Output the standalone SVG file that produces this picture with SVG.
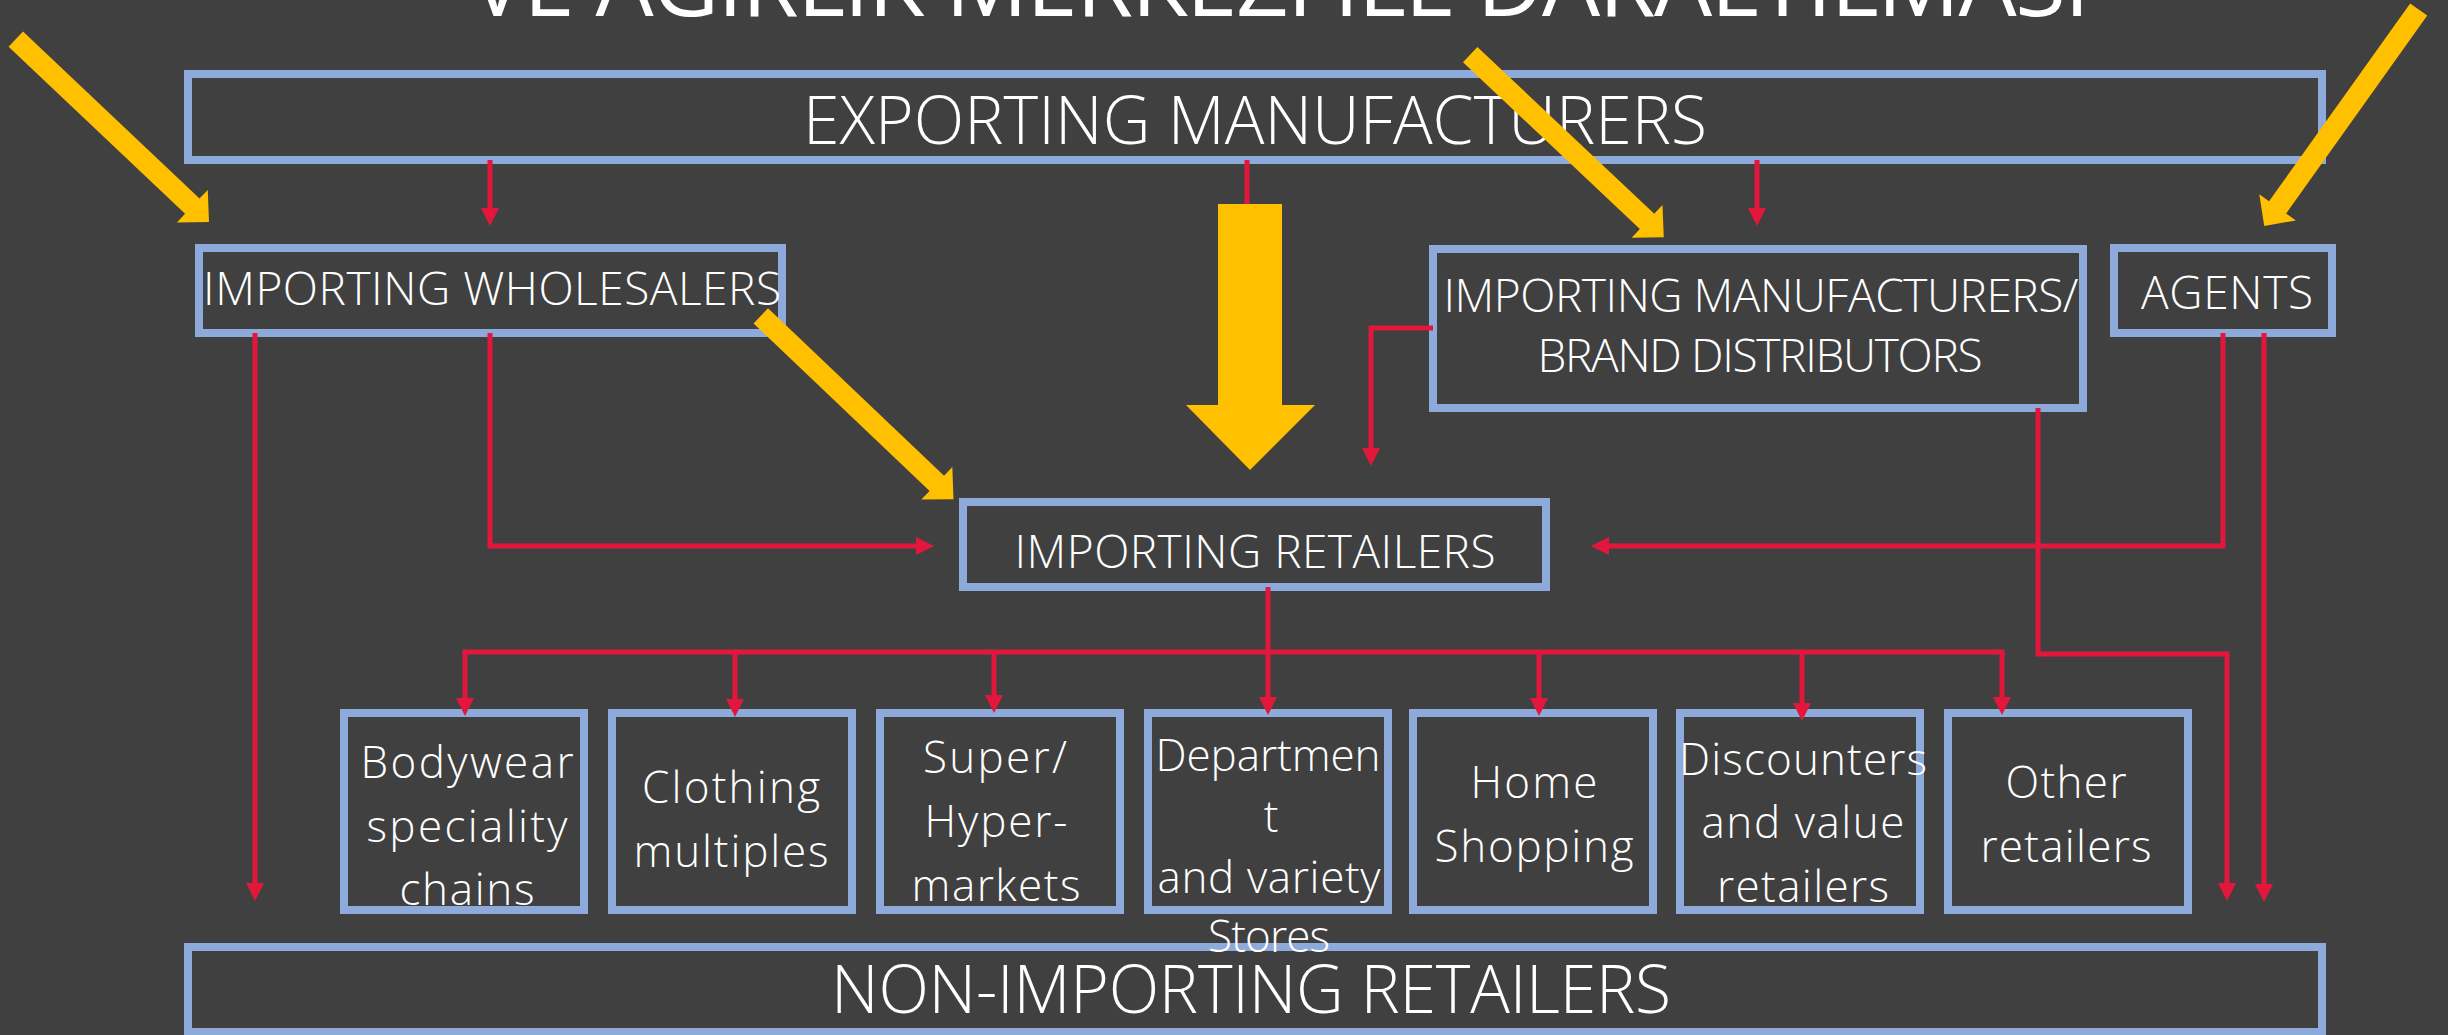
<svg xmlns="http://www.w3.org/2000/svg" width="2448" height="1035" viewBox="0 0 2448 1035">
<defs>
<style>
.box{fill:none;stroke:#8EAADB;stroke-width:8}
.t{font-family:"Open Sans","Segoe UI","DejaVu Sans",sans-serif;font-weight:300;fill:#FFFFFF;text-anchor:middle}
.big{font-size:66px}
.mid{font-size:46px}
.sm{font-size:44px}
.title{font-family:"Open Sans","DejaVu Sans",sans-serif;font-weight:400;font-size:92px;fill:#FFFFFF;text-anchor:middle}
.c{fill:none;stroke:#E2173B;stroke-width:5}
.a{marker-end:url(#ah)}
.y{fill:#FFC000}
</style>
<marker id="ah" markerUnits="userSpaceOnUse" markerWidth="18" markerHeight="18" viewBox="0 0 18 18" refX="4" refY="9" orient="auto"><path d="M0,0 L18,9 L0,18 Z" fill="#E2173B"/></marker>
<path id="ya" d="M0,-10.5 L243,-10.5 L243,-22.5 L266,0 L243,22.5 L243,10.5 L0,10.5 Z"/>
</defs>
<rect x="0" y="0" width="2448" height="1035" fill="#404040"/>
<text class="title" x="1280" y="16" textLength="1620">VE AĞIRLIK MERKEZİ İLE DARALTILMASI</text>

<g id="exporting-manufacturers">
<rect class="box" x="188" y="74" width="2134" height="86"/>
<text class="t big" x="1255" y="144" textLength="904">EXPORTING MANUFACTURERS</text>
</g>
<g id="importing-wholesalers">
<rect class="box" x="199" y="248" width="583" height="85"/>
<text class="t mid" x="492" y="305" textLength="578">IMPORTING WHOLESALERS</text>
</g>
<g id="importing-manufacturers">
<rect class="box" x="1433" y="249" width="650" height="159"/>
<text class="t mid" x="1761" y="312" textLength="635">IMPORTING MANUFACTURERS/</text>
<text class="t mid" x="1760" y="372" textLength="445">BRAND DISTRIBUTORS</text>
</g>
<g id="agents">
<rect class="box" x="2114" y="248" width="218" height="85"/>
<text class="t mid" x="2227" y="309" textLength="172">AGENTS</text>
</g>
<g id="importing-retailers">
<rect class="box" x="963" y="502" width="583" height="85"/>
<text class="t mid" x="1255" y="568" textLength="481">IMPORTING RETAILERS</text>
</g>
<g id="non-importing-retailers">
<rect class="box" x="188" y="947" width="2134" height="85"/>
<text class="t big" x="1251" y="1013" textLength="840">NON-IMPORTING RETAILERS</text>
</g>
<g id="bodywear">
<rect class="box" x="344" y="713" width="240" height="197"/>
<text class="t sm" x="467" y="778" textLength="213">Bodywear</text>
<text class="t sm" x="467" y="842" textLength="201">speciality</text>
<text class="t sm" x="467" y="905" textLength="135">chains</text>
</g>
<g id="clothing">
<rect class="box" x="612" y="713" width="240" height="197"/>
<text class="t sm" x="731" y="803" textLength="178">Clothing</text>
<text class="t sm" x="731" y="867" textLength="195">multiples</text>
</g>
<g id="super-hyper">
<rect class="box" x="880" y="713" width="240" height="197"/>
<text class="t sm" x="995" y="773" textLength="144">Super/</text>
<text class="t sm" x="996" y="837" textLength="143">Hyper-</text>
<text class="t sm" x="996" y="901" textLength="169">markets</text>
</g>
<g id="department">
<rect class="box" x="1148" y="713" width="240" height="197"/>
<text class="t sm" x="1268" y="771" textLength="225">Departmen</text>
<text class="t sm" x="1271" y="832">t</text>
<text class="t sm" x="1269" y="893" textLength="223">and variety</text>
<text class="t sm" x="1269" y="952" textLength="122">Stores</text>
</g>
<g id="home-shopping">
<rect class="box" x="1413" y="713" width="240" height="197"/>
<text class="t sm" x="1534" y="798" textLength="127">Home</text>
<text class="t sm" x="1534" y="862" textLength="199">Shopping</text>
</g>
<g id="discounters">
<rect class="box" x="1680" y="713" width="240" height="197"/>
<text class="t sm" x="1803" y="775" textLength="248">Discounters</text>
<text class="t sm" x="1803" y="838" textLength="203">and value</text>
<text class="t sm" x="1803" y="902" textLength="172">retailers</text>
</g>
<g id="other-retailers">
<rect class="box" x="1948" y="713" width="240" height="197"/>
<text class="t sm" x="2066" y="798" textLength="121">Other</text>
<text class="t sm" x="2066" y="862" textLength="171">retailers</text>
</g>

<g id="connectors">
<path class="c a" d="M490,160 V212"/>
<path class="c a" d="M1757,160 V212"/>
<path class="c" d="M1247,160 V215"/>
<path class="c a" d="M255,333 V887"/>
<path class="c a" d="M490,333 V546 H920"/>
<path class="c a" d="M1433,328 H1371 V452"/>
<path class="c a" d="M2223,333 V546 H1605"/>
<path class="c a" d="M2264,333 V888"/>
<path class="c a" d="M2038,408 V654 H2227 V887"/>
<path class="c a" d="M1268,587 V701"/>
<path class="c" d="M462.5,652 H2004.5"/>
<path class="c a" d="M465,652 V702"/>
<path class="c a" d="M735,652 V703"/>
<path class="c a" d="M994,652 V699"/>
<path class="c a" d="M1539,652 V702"/>
<path class="c a" d="M1802,652 V707"/>
<path class="c a" d="M2002,652 V701"/>
</g>

<g id="highlight-arrows">
<use href="#ya" class="y" transform="translate(15.8,39.2) rotate(43.42)"/>
<use href="#ya" class="y" transform="translate(760.8,315.8) rotate(43.58)"/>
<use href="#ya" class="y" transform="translate(1470.2,54.7) rotate(43.3)"/>
<use href="#ya" class="y" transform="translate(2418.7,9.5) rotate(125.5)"/>
<polygon class="y" points="1218,204 1282,204 1282,405 1315,405 1250,470 1186,405 1218,405"/>
</g>
</svg>
